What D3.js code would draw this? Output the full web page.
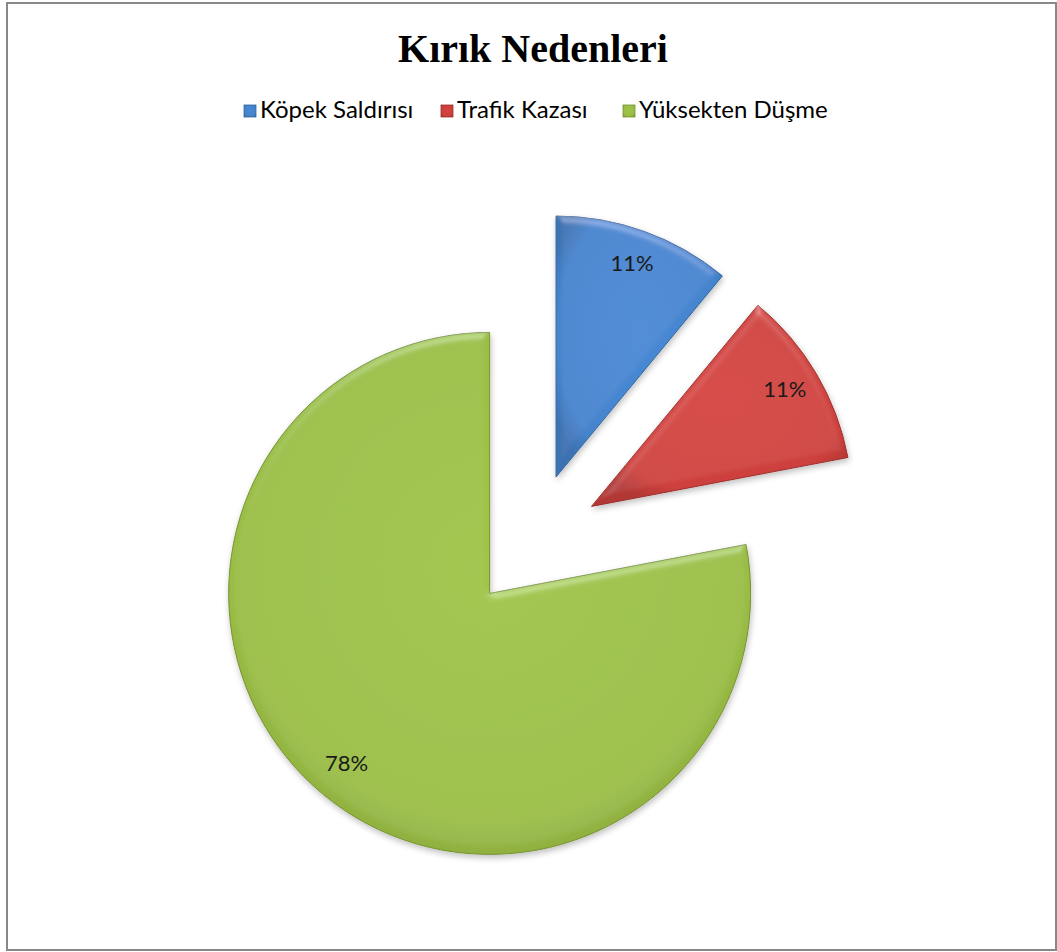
<!DOCTYPE html>
<html>
<head>
<meta charset="utf-8">
<script src="https://cdn.jsdelivr.net/npm/d3@7"></script>
<style>
  body { margin: 0; background: #fff; }
  svg { display: block; }
</style>
</head>
<body>
<svg id="chart"></svg>
<script>
const width = 1057;
const height = 952;

// data
const categories = ["Köpek Saldırısı", "Trafik Kazası", "Yüksekten Düşme"];
const values = [11, 11, 78];
const labels = ["11%", "11%", "78%"];
const colors = ["#4584cd", "#cd403c", "#9abd45"];
const edgeColors = ["#35669f", "#9e302d", "#76932f"];
const title = "Kırık Nedenleri";

const svg = d3.select("#chart")
  .attr("width", width)
  .attr("height", height);

const defs = svg.append("defs");

// Excel-ish bevel: soft highlight from above plus a light shadow
const bevel = defs.append("filter").attr("id", "bevel")
  .attr("x", "-10%").attr("y", "-10%").attr("width", "120%").attr("height", "120%");
bevel.append("feGaussianBlur").attr("in", "SourceAlpha").attr("stdDeviation", 4).attr("result", "blur");
bevel.append("feSpecularLighting").attr("in", "blur")
  .attr("surfaceScale", 4).attr("specularConstant", 0.5).attr("specularExponent", 22)
  .attr("lighting-color", "#ffffff").attr("result", "spec")
  .append("feDistantLight").attr("azimuth", 270).attr("elevation", 40);
bevel.append("feComposite").attr("in", "spec").attr("in2", "SourceAlpha").attr("operator", "in").attr("result", "specOut");
bevel.append("feComposite").attr("in", "SourceGraphic").attr("in2", "specOut")
  .attr("operator", "arithmetic").attr("k1", 0).attr("k2", 1).attr("k3", 0.35).attr("k4", 0).attr("result", "lit");
bevel.append("feGaussianBlur").attr("in", "SourceAlpha").attr("stdDeviation", 3).attr("result", "sblur");
bevel.append("feOffset").attr("in", "sblur").attr("dx", 1).attr("dy", 3).attr("result", "soff");
bevel.append("feComponentTransfer").attr("in", "soff").attr("result", "shadow")
  .append("feFuncA").attr("type", "linear").attr("slope", 0.25);
const merge = bevel.append("feMerge");
merge.append("feMergeNode").attr("in", "shadow");
merge.append("feMergeNode").attr("in", "lit");

// per-slice gradient, a bit lighter in the middle, darker at the rim
colors.forEach((c, i) => {
  const g = defs.append("radialGradient").attr("id", "grad" + i)
    .attr("cx", "50%").attr("cy", "45%").attr("r", "60%");
  g.append("stop").attr("offset", "0%").attr("stop-color", d3.color(c).brighter(0.1));
  g.append("stop").attr("offset", "82%").attr("stop-color", c);
  g.append("stop").attr("offset", "100%").attr("stop-color", d3.color(c).darker(0.4));
});

// outer frame
svg.append("rect")
  .attr("x", 7).attr("y", 3)
  .attr("width", 1049).attr("height", 947)
  .attr("fill", "#fff")
  .attr("stroke", "#888")
  .attr("stroke-width", 2);

// title
svg.append("text")
  .attr("x", 533).attr("y", 62)
  .attr("text-anchor", "middle")
  .attr("font-family", "'Liberation Serif', 'Times New Roman', serif")
  .attr("font-weight", "bold")
  .attr("font-size", 40)
  .attr("fill", "#000")
  .text(title);

// legend
const legendX = [244, 441, 623];
const legend = svg.append("g").attr("transform", "translate(0,110)");
categories.forEach((cat, i) => {
  const item = legend.append("g").attr("transform", `translate(${legendX[i]},0)`);
  item.append("rect")
    .attr("x", 0).attr("y", -5).attr("width", 12).attr("height", 12)
    .attr("fill", `url(#grad${i})`)
    .attr("stroke", edgeColors[i]).attr("stroke-width", 0.8);
  item.append("text")
    .attr("x", 16).attr("y", 8)
    .attr("font-family", "Lato, 'Open Sans', sans-serif")
    .attr("font-size", 24)
    .attr("fill", "#000")
    .text(cat);
});

// pie
const cx = 533, cy = 541;
const radius = 261;
const explode = 68;

const pie = d3.pie().sort(null).value(d => d);
const arcs = pie(values);
const arc = d3.arc().innerRadius(0).outerRadius(radius);

const pieG = svg.append("g").attr("transform", `translate(${cx},${cy})`);

const slices = pieG.selectAll("g.slice")
  .data(arcs)
  .enter()
  .append("g")
  .attr("class", "slice")
  .attr("transform", d => {
    const a = (d.startAngle + d.endAngle) / 2;
    return `translate(${explode * Math.sin(a)},${-explode * Math.cos(a)})`;
  });

slices.append("path")
  .attr("d", arc)
  .attr("fill", (d, i) => `url(#grad${i})`)
  .attr("stroke", (d, i) => edgeColors[i])
  .attr("stroke-width", 1)
  .attr("filter", "url(#bevel)");

slices.append("text")
  .attr("x", d => 0.86 * radius * Math.sin((d.startAngle + d.endAngle) / 2))
  .attr("y", d => -0.86 * radius * Math.cos((d.startAngle + d.endAngle) / 2) - 3)
  .attr("dy", "0.35em")
  .attr("text-anchor", "middle")
  .attr("font-family", "Lato, 'Open Sans', sans-serif")
  .attr("font-size", 22)
  .attr("fill", "#1a1a1a")
  .text((d, i) => labels[i]);
</script>
</body>
</html>
